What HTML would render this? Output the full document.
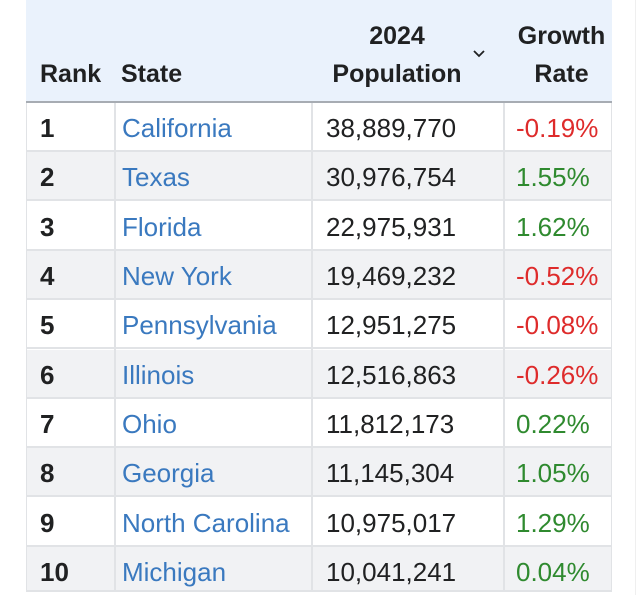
<!DOCTYPE html>
<html><head><meta charset="utf-8"><style>
html,body{margin:0;padding:0;background:#fff;}
body{width:640px;height:595px;position:relative;overflow:hidden;font-family:"Liberation Sans",Arial,sans-serif;color:#202122;}
.a{position:absolute;}
.hd{position:absolute;left:26px;top:0;width:586px;height:101px;background:#eaf2fc;}
.hb{position:absolute;left:26px;top:101px;width:586px;height:2px;background:#a7acb3;}
.row{position:absolute;left:26px;width:586px;}
.g{background:#f1f2f4;}
.hl{position:absolute;left:26px;width:586px;height:2px;background:#e1e3e6;}
.vl{position:absolute;top:103px;width:2px;height:488px;background:#e1e3e6;}
.h{position:absolute;font-weight:bold;font-size:25px;line-height:25px;white-space:nowrap;}
.t{position:absolute;font-size:26px;line-height:26px;white-space:nowrap;}
.r{font-weight:bold;}
.l{color:#3a79bf;}
.n{color:#de2b2b;}
.p{color:#2f8a2f;}
</style></head><body>
<div class="hd"></div>
<div class="hb"></div>
<div class="a" style="left:635px;top:0;width:1px;height:595px;background:#efefef"></div>

<div class="row" style="top:103px;height:47px;background:#fff"></div>
<div class="row g" style="top:152.33px;height:47px"></div>
<div class="row" style="top:201.67px;height:47px;background:#fff"></div>
<div class="row g" style="top:251px;height:47px"></div>
<div class="row" style="top:300.33px;height:47px;background:#fff"></div>
<div class="row g" style="top:349.67px;height:47px"></div>
<div class="row" style="top:399px;height:47px;background:#fff"></div>
<div class="row g" style="top:448.33px;height:47px"></div>
<div class="row" style="top:497.67px;height:47px;background:#fff"></div>
<div class="row g" style="top:547px;height:43px"></div>

<div class="hl" style="top:150px"></div>
<div class="hl" style="top:199.33px"></div>
<div class="hl" style="top:248.67px"></div>
<div class="hl" style="top:298px"></div>
<div class="hl" style="top:347.33px"></div>
<div class="hl" style="top:396.67px"></div>
<div class="hl" style="top:446px"></div>
<div class="hl" style="top:495.33px"></div>
<div class="hl" style="top:544.67px"></div>
<div class="hl" style="top:590px"></div>

<div class="vl" style="left:26px;width:1px"></div>
<div class="vl" style="left:114px"></div>
<div class="vl" style="left:311px"></div>
<div class="vl" style="left:503px"></div>
<div class="vl" style="left:611px;width:1px"></div>

<div class="h" style="left:40px;top:62px">Rank</div>
<div class="h" style="left:121px;top:62px">State</div>
<div class="h" style="left:297px;width:200px;text-align:center;top:24px">2024</div>
<div class="h" style="left:297px;width:200px;text-align:center;top:62px">Population</div>
<svg class="a" style="left:472px;top:48px" width="14" height="10" viewBox="0 0 14 10"><polyline points="2,3 7,8 12,3" fill="none" stroke="#202122" stroke-width="1.8"/></svg>
<div class="h" style="left:504px;width:115px;text-align:center;top:24px">Growth</div>
<div class="h" style="left:504px;width:115px;text-align:center;top:62px">Rate</div>

<div class="t r" style="left:40px;top:115px">1</div>
<div class="t l" style="left:122px;top:115px">California</div>
<div class="t" style="left:326px;top:115px">38,889,770</div>
<div class="t n" style="left:516px;top:115px">-0.19%</div>

<div class="t r" style="left:40px;top:164.33px">2</div>
<div class="t l" style="left:122px;top:164.33px">Texas</div>
<div class="t" style="left:326px;top:164.33px">30,976,754</div>
<div class="t p" style="left:516px;top:164.33px">1.55%</div>

<div class="t r" style="left:40px;top:213.67px">3</div>
<div class="t l" style="left:122px;top:213.67px">Florida</div>
<div class="t" style="left:326px;top:213.67px">22,975,931</div>
<div class="t p" style="left:516px;top:213.67px">1.62%</div>

<div class="t r" style="left:40px;top:263px">4</div>
<div class="t l" style="left:122px;top:263px">New York</div>
<div class="t" style="left:326px;top:263px">19,469,232</div>
<div class="t n" style="left:516px;top:263px">-0.52%</div>

<div class="t r" style="left:40px;top:312.33px">5</div>
<div class="t l" style="left:122px;top:312.33px">Pennsylvania</div>
<div class="t" style="left:326px;top:312.33px">12,951,275</div>
<div class="t n" style="left:516px;top:312.33px">-0.08%</div>

<div class="t r" style="left:40px;top:361.67px">6</div>
<div class="t l" style="left:122px;top:361.67px">Illinois</div>
<div class="t" style="left:326px;top:361.67px">12,516,863</div>
<div class="t n" style="left:516px;top:361.67px">-0.26%</div>

<div class="t r" style="left:40px;top:411px">7</div>
<div class="t l" style="left:122px;top:411px">Ohio</div>
<div class="t" style="left:326px;top:411px">11,812,173</div>
<div class="t p" style="left:516px;top:411px">0.22%</div>

<div class="t r" style="left:40px;top:460.33px">8</div>
<div class="t l" style="left:122px;top:460.33px">Georgia</div>
<div class="t" style="left:326px;top:460.33px">11,145,304</div>
<div class="t p" style="left:516px;top:460.33px">1.05%</div>

<div class="t r" style="left:40px;top:509.67px">9</div>
<div class="t l" style="left:122px;top:509.67px">North Carolina</div>
<div class="t" style="left:326px;top:509.67px">10,975,017</div>
<div class="t p" style="left:516px;top:509.67px">1.29%</div>

<div class="t r" style="left:40px;top:559px">10</div>
<div class="t l" style="left:122px;top:559px">Michigan</div>
<div class="t" style="left:326px;top:559px">10,041,241</div>
<div class="t p" style="left:516px;top:559px">0.04%</div>
</body></html>
